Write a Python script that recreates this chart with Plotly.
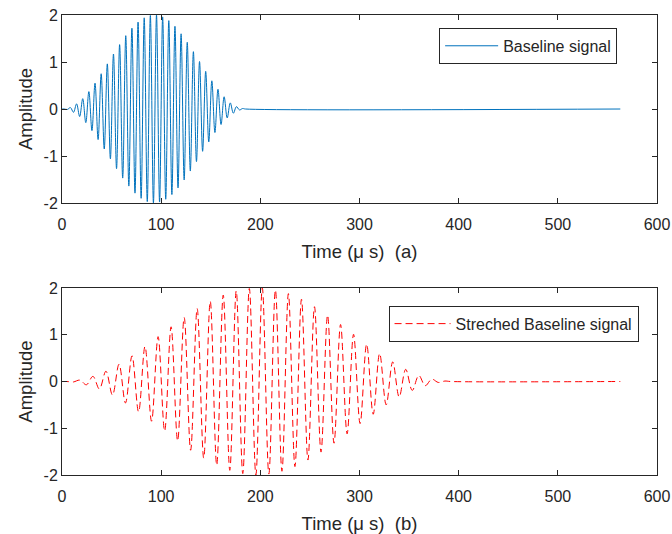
import plotly.graph_objects as go

# Extremum times (µs) of the baseline tone burst
t_base = [0, 1.0, 2.3, 5.4, 8.5, 11.6, 14.7, 17.8, 20.9, 24.0, 27.1, 30.2, 33.3, 36.4, 39.5,
          42.6, 45.7, 48.8, 51.9, 55.0, 58.1, 61.2, 64.3, 67.4, 70.5, 73.6, 76.7,
          79.8, 82.9, 86.0, 89.1, 92.2, 95.3, 98.4, 101.5, 104.6, 107.7, 110.8,
          113.9, 117.0, 120.1, 123.2, 126.3, 129.4, 132.5, 135.6, 138.7, 141.8,
          144.9, 148.0, 151.1, 154.2, 157.3, 160.4, 163.5, 166.6, 169.7, 172.8,
          175.9, 179.0, 182.1, 185.0, 563.0]

# Extremum times (µs) of the stretched signal
t_str = [0, 2.1, 4.9, 11.4, 18.0, 24.6, 31.2, 37.7, 44.3, 50.9, 57.5, 64.0, 70.6, 77.2, 83.7,
         90.3, 96.9, 103.5, 110.0, 116.6, 123.2, 129.7, 136.3, 142.9, 149.5, 156.0,
         162.6, 169.2, 175.7, 182.3, 188.9, 195.5, 202.0, 208.6, 215.2, 221.8,
         228.3, 234.9, 241.5, 248.0, 254.6, 261.2, 267.8, 274.3, 280.9, 287.5,
         294.0, 300.6, 307.2, 313.8, 320.3, 326.9, 333.5, 340.0, 346.6, 353.2,
         359.8, 366.3, 372.9, 379.5, 386.1, 392.0, 563.0]

# Extremum amplitudes (same sequence in both panels)
amp = [0, 0, 0.00, -0.01, 0.03, -0.07, 0.11, -0.16, 0.22, -0.29, 0.37, -0.46, 0.55, -0.65,
       0.75, -0.85, 0.96, -1.06, 1.17, -1.27, 1.37, -1.47, 1.56, -1.64, 1.72,
       -1.79, 1.85, -1.90, 1.94, -1.97, 1.99, -2.00, 2.00, -1.98, 1.96, -1.92,
       1.88, -1.82, 1.76, -1.68, 1.60, -1.51, 1.42, -1.32, 1.22, -1.12, 1.01,
       -0.90, 0.80, -0.70, 0.60, -0.50, 0.42, -0.33, 0.26, -0.19, 0.13, -0.09,
       0.05, -0.02, 0.01, 0, 0]

x_ticks = [0, 100, 200, 300, 400, 500, 600]
y_ticks = [-2, -1, 0, 1, 2]
y_tick_labels = ["-2", "-1", "0", "1", "2"]

TXT = "#262626"
FONT = "Liberation Sans, Arial, sans-serif"

fig = go.Figure()
fig.add_trace(go.Scatter(
    x=t_base, y=amp, mode="lines", name="Baseline signal", showlegend=True,
    line=dict(color="#0072BD", width=1, shape="spline", smoothing=1),
    xaxis="x", yaxis="y", legend="legend"))
fig.add_trace(go.Scatter(
    x=t_str, y=amp, mode="lines", name="Streched Baseline signal", showlegend=True,
    line=dict(color="#FF0000", width=1, dash="7px,4px", shape="spline", smoothing=1),
    xaxis="x2", yaxis="y2", legend="legend2"))

ax_common = dict(showline=True, linecolor=TXT, linewidth=1, mirror="ticks",
                 ticks="inside", ticklen=5, tickcolor=TXT, showgrid=False,
                 zeroline=False, automargin=False,
                 tickfont=dict(size=16, color=TXT, family=FONT))

xt = dict(font=dict(size=18.5, color=TXT), standoff=12)
yt = dict(font=dict(size=18.5, color=TXT), standoff=6)

fig.update_layout(
    width=672, height=534, showlegend=True,
    margin=dict(l=62, r=15, t=15, b=59),
    paper_bgcolor="white", plot_bgcolor="white",
    font=dict(family=FONT, color=TXT),
    xaxis=dict(domain=[0, 1], range=[0, 600], tickvals=x_ticks, anchor="y",
               ticklabelstandoff=7,
               title=dict(text="Time (μ s)\u00a0\u00a0(a)", **xt), **ax_common),
    yaxis=dict(domain=[0.5913, 1], range=[-2, 2], tickvals=y_ticks,
               ticktext=y_tick_labels, anchor="x",
               title=dict(text="Amplitude", **yt), **ax_common),
    xaxis2=dict(domain=[0, 1], range=[0, 600], tickvals=x_ticks, anchor="y2",
                ticklabelstandoff=7,
                title=dict(text="Time (μ s)\u00a0\u00a0(b)", **xt), **ax_common),
    yaxis2=dict(domain=[0, 0.4065], range=[-2, 2], tickvals=y_ticks,
                ticktext=y_tick_labels, anchor="x2",
                title=dict(text="Amplitude", **yt), **ax_common),
    legend=dict(x=0.933, y=0.972, xanchor="right", yanchor="top", itemwidth=53,
                bgcolor="white", bordercolor=TXT, borderwidth=1,
                font=dict(size=16, color=TXT, family=FONT)),
    legend2=dict(x=0.969, y=0.368, xanchor="right", yanchor="top", itemwidth=56,
                 bgcolor="white", bordercolor=TXT, borderwidth=1,
                 font=dict(size=16, color=TXT, family=FONT)),
)

fig.write_html("out.html", config={"displayModeBar": False},
               post_script="document.body.style.margin='0';")
